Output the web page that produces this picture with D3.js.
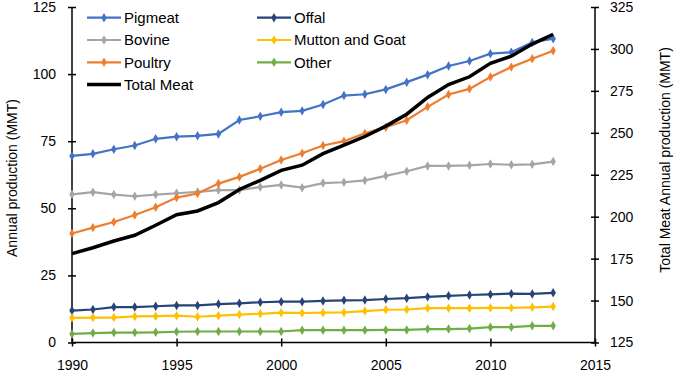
<!DOCTYPE html>
<html lang="en">
<head>
<meta charset="UTF-8" />
<title>Meat production</title>
<script src="https://d3js.org/d3.v7.min.js"></script>
<style>
  body { margin: 0; background: #fff; }
  svg { display: block; font-family: "Liberation Sans", Arial, sans-serif; }
  .axis text { font-size: 14px; fill: #000; }
  .axis path, .axis line { stroke: #000; stroke-width: 1.5px; }
</style>
</head>
<body>
<script>
const years = [1990,1991,1992,1993,1994,1995,1996,1997,1998,1999,2000,2001,
               2002,2003,2004,2005,2006,2007,2008,2009,2010,2011,2012,2013];
const pigmeat = [69.5,70.3,72.0,73.4,75.9,76.7,77.0,77.7,82.9,84.3,85.8,86.3,88.7,92.0,92.5,94.3,97.0,99.8,103.0,104.9,107.6,108.1,111.8,113.2];
const offal   = [11.9,12.3,13.2,13.2,13.5,13.8,13.8,14.3,14.6,15.0,15.2,15.2,15.5,15.7,15.8,16.2,16.5,17.0,17.4,17.7,17.9,18.2,18.1,18.5];
const bovine  = [55.2,56.0,55.1,54.5,55.1,55.6,56.1,56.8,56.8,57.9,58.7,57.7,59.4,59.7,60.4,62.1,63.8,65.8,65.8,66.0,66.5,66.2,66.4,67.4];
const mutton  = [9.2,9.3,9.3,9.7,9.8,10.0,9.6,10.0,10.4,10.7,11.1,11.0,11.1,11.2,11.7,12.2,12.3,12.8,12.8,12.8,12.9,12.9,13.1,13.4];
const poultry = [40.6,42.8,44.9,47.5,50.4,54.0,55.5,59.2,61.7,64.7,68.0,70.5,73.4,75.0,77.9,80.2,82.8,87.8,92.4,94.5,98.9,102.6,105.7,108.7];
const other   = [3.2,3.5,3.7,3.7,3.8,4.0,4.1,4.1,4.1,4.1,4.1,4.6,4.6,4.6,4.6,4.7,4.7,5.0,5.0,5.2,5.7,5.7,6.2,6.2];
const totalMeat = [178,181.5,185.5,188.9,194.9,201.2,203.4,208.4,216.2,221.7,227.6,230.7,237.6,242.7,247.8,254,261.1,271.1,278.8,283.4,291.4,295.7,302.9,308.7];

const xTicks = [1990,1995,2000,2005,2010,2015];
const leftTicks = [0,25,50,75,100,125];
const rightTicks = [125,150,175,200,225,250,275,300,325];

const series = [
  { name: "Pigmeat", values: pigmeat, color: "#4472C4" },
  { name: "Offal", values: offal, color: "#264478" },
  { name: "Bovine", values: bovine, color: "#A5A5A5" },
  { name: "Mutton and Goat", values: mutton, color: "#FFC000" },
  { name: "Poultry", values: poultry, color: "#ED7D31" },
  { name: "Other", values: other, color: "#70AD47" }
];

const width = 678, height = 372;
const plotLeft = 72, plotRight = 595, plotTop = 7, plotBottom = 342.5;

const svg = d3.select("body").append("svg")
  .attr("width", width).attr("height", height);

const x = d3.scaleLinear().domain([1990, 2015]).range([plotLeft, plotRight]);
const y = d3.scaleLinear().domain([0, 125]).range([plotBottom, plotTop]);
const y2 = d3.scaleLinear().domain([125, 325]).range([plotBottom, plotTop]);

// axes with ticks crossing the axis line
function crossTicks(g, vertical) {
  g.select(".domain").remove();
  g.selectAll(".tick line").attr(vertical ? "x1" : "y1", -4).attr(vertical ? "x2" : "y2", 4);
}

svg.append("g").attr("class", "axis")
  .attr("transform", `translate(0,${plotBottom})`)
  .call(d3.axisBottom(x).tickValues(xTicks).tickFormat(d3.format("d")).tickSize(4).tickPadding(14))
  .call(g => crossTicks(g, false));
svg.append("line").attr("x1", plotLeft).attr("x2", plotRight).attr("y1", plotBottom).attr("y2", plotBottom)
  .attr("stroke", "#000").attr("stroke-width", 1.5);

svg.append("g").attr("class", "axis")
  .attr("transform", `translate(${plotLeft},0)`)
  .call(d3.axisLeft(y).tickValues(leftTicks).tickSize(4).tickPadding(12))
  .call(g => crossTicks(g, true));
svg.append("line").attr("x1", plotLeft).attr("x2", plotLeft).attr("y1", plotTop).attr("y2", plotBottom)
  .attr("stroke", "#000").attr("stroke-width", 1.5);

svg.append("g").attr("class", "axis")
  .attr("transform", `translate(${plotRight},0)`)
  .call(d3.axisRight(y2).tickValues(rightTicks).tickSize(4).tickPadding(11))
  .call(g => crossTicks(g, true));
svg.append("line").attr("x1", plotRight).attr("x2", plotRight).attr("y1", plotTop).attr("y2", plotBottom)
  .attr("stroke", "#000").attr("stroke-width", 1.5);

// axis titles
svg.append("text")
  .attr("transform", `translate(12,178) rotate(-90)`)
  .attr("text-anchor", "middle").attr("dy", "0.35em")
  .style("font-size", "14px")
  .text("Annual production (MMT)");
svg.append("text")
  .attr("transform", `translate(665,160) rotate(-90)`)
  .attr("text-anchor", "middle").attr("dy", "0.35em")
  .style("font-size", "14px")
  .text("Total Meat Annual production (MMT)");

const line = d3.line().x((d, i) => x(years[i])).y(d => y(d));
const diamond = d3.symbol().type(d3.symbolDiamond).size(26);

series.forEach(s => {
  const g = svg.append("g");
  g.append("path").datum(s.values)
    .attr("d", line)
    .attr("fill", "none")
    .attr("stroke", s.color)
    .attr("stroke-width", 2.2);
  g.selectAll("path.pt").data(s.values).join("path")
    .attr("class", "pt")
    .attr("d", diamond)
    .attr("transform", (d, i) => `translate(${x(years[i])},${y(d)})`)
    .attr("fill", s.color);
});

const line2 = d3.line().x((d, i) => x(years[i])).y(d => y2(d));
svg.append("path").datum(totalMeat)
  .attr("d", line2)
  .attr("fill", "none")
  .attr("stroke", "#000")
  .attr("stroke-width", 3.5);

// legend
const legendItems = [
  { name: "Pigmeat", color: "#4472C4", col: 0, row: 0, marker: true, w: 2.2 },
  { name: "Offal", color: "#264478", col: 1, row: 0, marker: true, w: 2.2 },
  { name: "Bovine", color: "#A5A5A5", col: 0, row: 1, marker: true, w: 2.2 },
  { name: "Mutton and Goat", color: "#FFC000", col: 1, row: 1, marker: true, w: 2.2 },
  { name: "Poultry", color: "#ED7D31", col: 0, row: 2, marker: true, w: 2.2 },
  { name: "Other", color: "#70AD47", col: 1, row: 2, marker: true, w: 2.2 },
  { name: "Total Meat", color: "#000", col: 0, row: 3, marker: false, w: 3.5 }
];
const legend = svg.append("g");
legendItems.forEach(d => {
  const lx = d.col === 0 ? 87 : 257;
  const ly = 17.7 + d.row * 22.3;
  legend.append("line")
    .attr("x1", lx).attr("x2", lx + 34).attr("y1", ly).attr("y2", ly)
    .attr("stroke", d.color).attr("stroke-width", d.w);
  if (d.marker) {
    legend.append("path").attr("d", diamond)
      .attr("transform", `translate(${lx + 17},${ly})`)
      .attr("fill", d.color);
  }
  legend.append("text")
    .attr("x", lx + 37).attr("y", ly).attr("dy", "0.35em")
    .style("font-size", "15px")
    .text(d.name);
});
</script>
</body>
</html>
